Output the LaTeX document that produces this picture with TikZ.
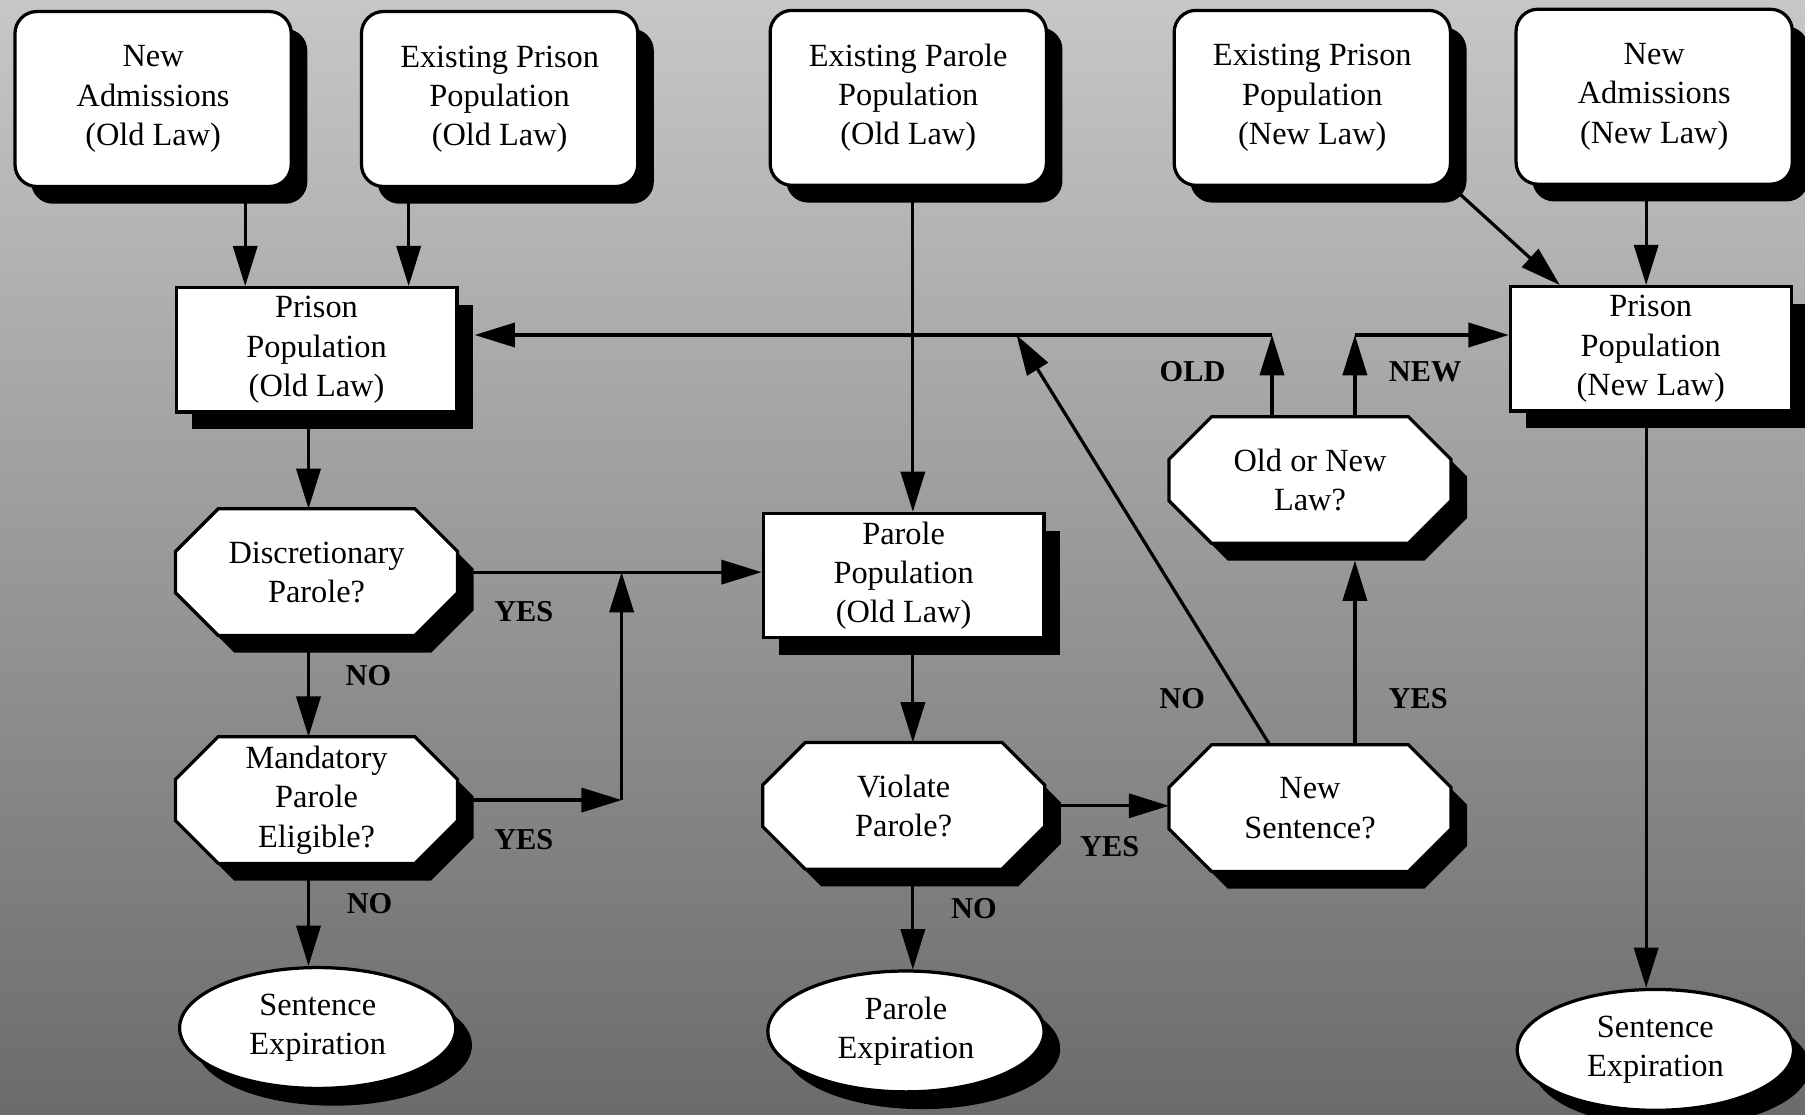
\documentclass[tikz,border=0pt]{standalone}
\usepackage{fontspec}
\setmainfont{Liberation Serif}
\usetikzlibrary{arrows.meta,shapes.geometric,shadows,positioning}

% a box with its four corners cut off (the question boxes)
\makeatletter
\newdimen\octcut \octcut=0.74cm
\pgfdeclareshape{cutbox}{%
  \inheritsavedanchors[from=rectangle]%
  \inheritanchorborder[from=rectangle]%
  \inheritanchor[from=rectangle]{center}%
  \inheritanchor[from=rectangle]{north}%
  \inheritanchor[from=rectangle]{south}%
  \inheritanchor[from=rectangle]{east}%
  \inheritanchor[from=rectangle]{west}%
  \inheritanchor[from=rectangle]{north east}%
  \inheritanchor[from=rectangle]{north west}%
  \inheritanchor[from=rectangle]{south east}%
  \inheritanchor[from=rectangle]{south west}%
  \inheritanchor[from=rectangle]{text}%
  \inheritanchor[from=rectangle]{base}%
  \inheritanchor[from=rectangle]{mid}%
  \backgroundpath{%
    \southwest \pgf@xa=\pgf@x \pgf@ya=\pgf@y
    \northeast \pgf@xb=\pgf@x \pgf@yb=\pgf@y
    \edef\octxl{\the\pgf@xa}\edef\octxr{\the\pgf@xb}%
    \edef\octyb{\the\pgf@ya}\edef\octyt{\the\pgf@yb}%
    \advance\pgf@xa by \octcut \advance\pgf@ya by \octcut
    \advance\pgf@xb by -\octcut \advance\pgf@yb by -\octcut
    \edef\octxli{\the\pgf@xa}\edef\octxri{\the\pgf@xb}%
    \edef\octybi{\the\pgf@ya}\edef\octyti{\the\pgf@yb}%
    \pgfpathmoveto{\pgfqpoint{\octxl}{\octybi}}%
    \pgfpathlineto{\pgfqpoint{\octxl}{\octyti}}%
    \pgfpathlineto{\pgfqpoint{\octxli}{\octyt}}%
    \pgfpathlineto{\pgfqpoint{\octxri}{\octyt}}%
    \pgfpathlineto{\pgfqpoint{\octxr}{\octyti}}%
    \pgfpathlineto{\pgfqpoint{\octxr}{\octybi}}%
    \pgfpathlineto{\pgfqpoint{\octxri}{\octyb}}%
    \pgfpathlineto{\pgfqpoint{\octxli}{\octyb}}%
    \pgfpathclose
  }%
}
\makeatother

\tikzset{
  block/.style={draw, line width=1.6pt, fill=white, align=center,
    drop shadow={shadow xshift=0.28cm, shadow yshift=-0.3cm, fill=black, opacity=1}},
  source/.style={block, rounded corners=0.38cm, minimum width=4.8cm, minimum height=3.04cm},
  population/.style={block, rectangle, inner ysep=1pt, minimum width=4.88cm, minimum height=2.16cm},
  question/.style={block, cutbox, outer sep=0pt, inner sep=1pt, minimum width=4.9cm, minimum height=2.2cm},
  expiry/.style={block, ellipse, inner sep=1pt, minimum width=4.8cm, minimum height=2.1cm},
  answer/.style={font=\fontsize{15}{18}\selectfont\bfseries, inner sep=0pt},
  flow/.style={->, line width=1.6pt},
}

\begin{document}
\begin{tikzpicture}[x=0.02cm, y=-0.02cm, >={Triangle[length=0.7cm, width=0.42cm]},
    font=\fontsize{16}{19.4}\selectfont]
    % grey page, lighter at the top
    \shade[top color=black!22, middle color=black!36, bottom color=black!58] (0,0) rectangle (1568,968);
    \useasboundingbox (0,0) rectangle (1568,968);

    % where the people come from
    \node[source] (naold) at (133,86) {New\\Admissions\\(Old Law)};
    \node[source] (epold) at (434,86) {Existing Prison\\Population\\(Old Law)};
    \node[source] (eparole) at (789,85) {Existing Parole\\Population\\(Old Law)};
    \node[source] (epnew) at (1140,85) {Existing Prison\\Population\\(New Law)};
    \node[source] (nanew) at (1437,84) {New\\Admissions\\(New Law)};

    % populations
    \node[population] (ppold) at (275,304) {Prison\\Population\\(Old Law)};
    \node[population] (ppnew) at (1434,303) {Prison\\Population\\(New Law)};
    \node[population] (parole) at (785,500) {Parole\\Population\\(Old Law)};

    % the questions
    \node[question] (dp) at (275,497) {Discretionary\\Parole?};
    \node[question] (mpe) at (275,695) {Mandatory\\Parole\\Eligible?};
    \node[question] (onl) at (1138,417) {Old or New\\Law?};
    \node[question] (vp) at (785,700) {Violate\\Parole?};
    \node[question] (ns) at (1138,702) {New\\Sentence?};

    % ways out
    \node[expiry] (seold) at (276,893) {Sentence\\Expiration};
    \node[expiry] (pexp) at (787,896) {Parole\\Expiration};
    \node[expiry] (senew) at (1438,912) {Sentence\\Expiration};

    % lanes for the vertical lines
    \coordinate (inleft) at (213,0);
    \coordinate (inright) at (355,0);
    \coordinate (oldlane) at (268,0);
    \coordinate (yeslane) at (540,0);
    \coordinate (parolelane) at (793,0);
    \coordinate (nostart) at (1103,0);
    \coordinate (oldup) at (1105,291);
    \coordinate (newup) at (1177,291);
    \coordinate (backhit) at (883,291);
    \coordinate (newlane) at (1430,0);

    % into the prison populations
    \draw[flow] (naold.south -| inleft) -- (ppold.north -| inleft);
    \draw[flow] (epold.south -| inright) -- (ppold.north -| inright);
    \draw[flow] (eparole.south -| parolelane) -- (parole.north -| parolelane);
    \draw[flow] (epnew.south east) -- ([xshift=-1.58cm]ppnew.north);
    \draw[flow] (nanew.south -| newlane) -- (ppnew.north -| newlane);

    % old law: parole or not
    \draw[flow] (ppold.south -| oldlane) -- (dp.north -| oldlane);
    \draw[flow] (dp.south -| oldlane) -- (mpe.north -| oldlane);
    \draw[flow] (mpe.south -| oldlane) -- (seold.north -| oldlane);
    \draw[flow] (dp.east) -- (dp.east -| parole.west);
    \draw[flow] (mpe.east) -- (mpe.east -| yeslane);
    \draw[flow] (mpe.east -| yeslane) -- (dp.east -| yeslane);
    \node[answer] (dpno) at (320,587) {NO};
    \node[answer] (dpyes) at (455,531) {YES};
    \node[answer] (mpeno) at (321,785) {NO};
    \node[answer] (mpeyes) at (455,729) {YES};

    % parole: violation and new sentence
    \draw[flow] (parole.south -| parolelane) -- (vp.north -| parolelane);
    \draw[flow] (vp.south -| parolelane) -- (pexp.north -| parolelane);
    \draw[flow] (vp.east) -- (vp.east -| ns.west);
    \draw[flow] (ns.north -| newup) -- ([yshift=-0.3cm]onl.south -| newup);
    \draw[flow] (ns.north -| nostart) -- (backhit);
    \node[answer] (vpno) at (846,789) {NO};
    \node[answer] (vpyes) at (964,735) {YES};
    \node[answer] (nsno) at (1027,607) {NO};
    \node[answer] (nsyes) at (1232,607) {YES};

    % back to the old or the new law
    \draw[flow] (onl.north -| oldup) -- (oldup);
    \draw[flow] (oldup) -- ([xshift=0.28cm]oldup -| ppold.east);
    \draw[flow] (onl.north -| newup) -- (newup);
    \draw[flow] (newup) -- (newup -| ppnew.west);
    \node[answer] (onlold) at (1036,323) {OLD};
    \node[answer] (onlnew) at (1238,323) {NEW};

    % new law runs out
    \draw[flow] (ppnew.south -| newlane) -- (senew.north -| newlane);
\end{tikzpicture}
\end{document}
